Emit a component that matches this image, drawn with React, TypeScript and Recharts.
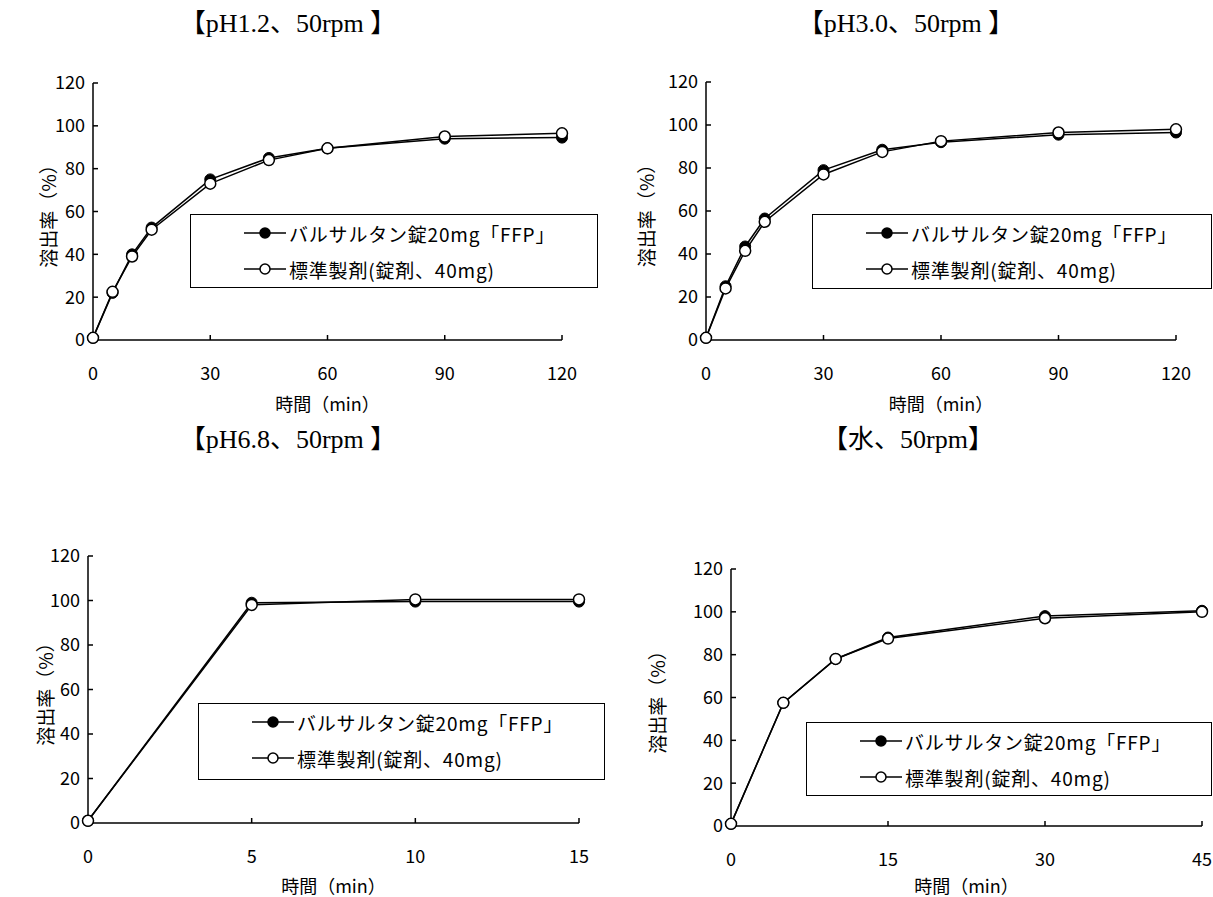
// @ts-nocheck
import React from "react";
import { LineChart, Line, XAxis, YAxis, Legend, Label } from "recharts";

const seriesNames = ["バルサルタン錠20mg「FFP」", "標準製剤(錠剤、40mg)"];
const yTicks = [0, 20, 40, 60, 80, 100, 120];

const ph12Times = [0, 5, 10, 15, 30, 45, 60, 90, 120];
const ph12Ffp = [1, 22, 40, 52.5, 75, 85, 89.5, 94, 94.5];
const ph12Std = [1, 22.5, 39, 51.5, 73, 84, 89.5, 95, 96.5];

const ph30Times = [0, 5, 10, 15, 30, 45, 60, 90, 120];
const ph30Ffp = [1, 25, 43.5, 56.5, 79, 88.5, 92, 95.5, 96.5];
const ph30Std = [1, 24, 41.5, 55, 77, 87.5, 92.5, 96.5, 98];

const ph68Times = [0, 5, 10, 15];
const ph68Ffp = [1, 99, 99.5, 99.5];
const ph68Std = [1, 98, 100.5, 100.5];

const waterTimes = [0, 5, 10, 15, 30, 45];
const waterFfp = [1, 57.5, 78, 88, 98, 100.5];
const waterStd = [1, 57.5, 78, 87.5, 97, 100];

const ticks120 = [0, 30, 60, 90, 120];
const ticks15 = [0, 5, 10, 15];
const ticks45 = [0, 15, 30, 45];

const toRows = (times, ffp, std) => times.map((t, i) => ({ t, ffp: ffp[i], std: std[i] }));

const gothic = '"Noto Sans CJK JP", "Noto Sans", sans-serif';
const serif = '"Liberation Serif", "Noto Sans CJK JP", serif';
const Y_W = 50;
const X_H = 30;

const panels = [
  {
    title: "【pH1.2、50rpm 】", titleX: 288, titleY: 24,
    box: { x: 0, y: 40, w: 606, h: 390 },
    plot: { left: 93, top: 83, right: 562, bottom: 340 },
    legend: { x: 190, y: 214, w: 408, h: 74 },
    rows: toRows(ph12Times, ph12Ffp, ph12Std), xTicks: ticks120, yTitleOff: 46, xTitleOff: 63,
  },
  {
    title: "【pH3.0、50rpm 】", titleX: 906, titleY: 24,
    box: { x: 606, y: 40, w: 607, h: 390 },
    plot: { left: 706, top: 82, right: 1176, bottom: 340 },
    legend: { x: 812, y: 214, w: 400, h: 75 },
    rows: toRows(ph30Times, ph30Ffp, ph30Std), xTicks: ticks120, yTitleOff: 61, xTitleOff: 63,
  },
  {
    title: "【pH6.8、50rpm 】", titleX: 288, titleY: 440,
    box: { x: 0, y: 500, w: 606, h: 397 },
    plot: { left: 88, top: 556, right: 579, bottom: 823 },
    legend: { x: 198, y: 703, w: 407, h: 77 },
    rows: toRows(ph68Times, ph68Ffp, ph68Std), xTicks: ticks15, yTitleOff: 44, xTitleOff: 62,
  },
  {
    title: "【水、50rpm】", titleX: 908, titleY: 440,
    box: { x: 606, y: 500, w: 607, h: 397 },
    plot: { left: 731, top: 569, right: 1202, bottom: 826 },
    legend: { x: 806, y: 722, w: 406, h: 74 },
    rows: toRows(waterTimes, waterFfp, waterStd), xTicks: ticks45, yTitleOff: 75, xTitleOff: 59,
  },
];

const markerFill = ["#000", "#fff"];

const renderLegend = ({ payload }) => (
  <div
    style={{
      boxSizing: "border-box", width: "100%", height: "100%", border: "1.5px solid #000",
      background: "#fff", paddingLeft: 53, paddingTop: 0,
    }}
  >
    {(payload || []).map((entry, i) => (
      <div key={i} style={{ display: "flex", alignItems: "center", height: 36 }}>
        <svg width={42} height={14} style={{ flex: "none" }}>
          <line x1={0} y1={7} x2={42} y2={7} stroke="#000" strokeWidth={1.5} />
          <circle cx={21} cy={7} r={5} fill={markerFill[i]} stroke="#000" strokeWidth={1.5} />
        </svg>
        <span style={{ marginLeft: 3, fontSize: 19, letterSpacing: 0.8, fontFamily: gothic, color: "#000", whiteSpace: "nowrap" }}>
          {entry.value}
        </span>
      </div>
    ))}
  </div>
);

const tickStyle = { fill: "#000", fontSize: 18, fontFamily: gothic };

const Panel = ({ cfg }) => {
  const { box, plot, legend } = cfg;
  const margin = {
    left: plot.left - box.x - Y_W,
    top: plot.top - box.y,
    right: box.x + box.w - plot.right,
    bottom: box.y + box.h - plot.bottom - X_H,
  };
  const xMax = cfg.xTicks[cfg.xTicks.length - 1];

  const xTitle = ({ viewBox }) => (
    <text x={viewBox.x + viewBox.width / 2} y={viewBox.y + cfg.xTitleOff} textAnchor="middle" dominantBaseline="central"
      fontSize={18} fontFamily={gothic} fill="#000">時間（min）</text>
  );
  const yTitle = ({ viewBox }) => {
    const cx = viewBox.x + viewBox.width - cfg.yTitleOff;
    const cy = viewBox.y + viewBox.height / 2;
    return (
      <text x={cx} y={cy} transform={`rotate(-90 ${cx} ${cy})`} textAnchor="middle" dominantBaseline="central"
        fontSize={19} fontFamily={gothic} fill="#000">溶出率（%）</text>
    );
  };

  return (
    <>
      <div style={{ position: "absolute", left: cfg.titleX - 150, top: cfg.titleY - 17, width: 300, textAlign: "center",
        fontFamily: serif, fontSize: 26, lineHeight: "34px", color: "#000", whiteSpace: "pre" }}>
        {cfg.title}
      </div>
      <div style={{ position: "absolute", left: box.x, top: box.y, width: box.w, height: box.h }}>
        <LineChart width={box.w} height={box.h} data={cfg.rows} margin={margin}>
          <XAxis type="number" dataKey="t" domain={[0, xMax]} ticks={cfg.xTicks} height={X_H}
            axisLine={{ stroke: "#000", strokeWidth: 1.5 }} tickLine={{ stroke: "#000", strokeWidth: 1.5 }}
            tickSize={-5} tickMargin={32} tick={tickStyle} interval={0}>
            <Label content={xTitle} />
          </XAxis>
          <YAxis type="number" domain={[0, 120]} ticks={yTicks} width={Y_W}
            axisLine={{ stroke: "#000", strokeWidth: 1.5 }} tickLine={{ stroke: "#000", strokeWidth: 1.5 }}
            tickSize={-5} tickMargin={13} tick={tickStyle} interval={0}>
            <Label content={yTitle} />
          </YAxis>
          <Legend layout="horizontal" verticalAlign="middle" align="center" content={renderLegend}
            wrapperStyle={{ left: legend.x - box.x, top: legend.y - box.y, width: legend.w, height: legend.h }} />
          <Line dataKey="ffp" name={seriesNames[0]} stroke="#000" strokeWidth={1.5} isAnimationActive={false}
            dot={{ r: 5.5, fill: "#000", stroke: "#000", strokeWidth: 1 }} activeDot={false} />
          <Line dataKey="std" name={seriesNames[1]} stroke="#000" strokeWidth={1.5} isAnimationActive={false}
            dot={{ r: 5.5, fill: "#fff", stroke: "#000", strokeWidth: 1.5 }} activeDot={false} />
        </LineChart>
      </div>
    </>
  );
};

export default function App() {
  return (
    <div style={{ position: "absolute", left: 0, top: 0, width: 1213, height: 897, background: "#fff", overflow: "hidden" }}>
      {panels.map((p, i) => (
        <Panel key={i} cfg={p} />
      ))}
    </div>
  );
}
